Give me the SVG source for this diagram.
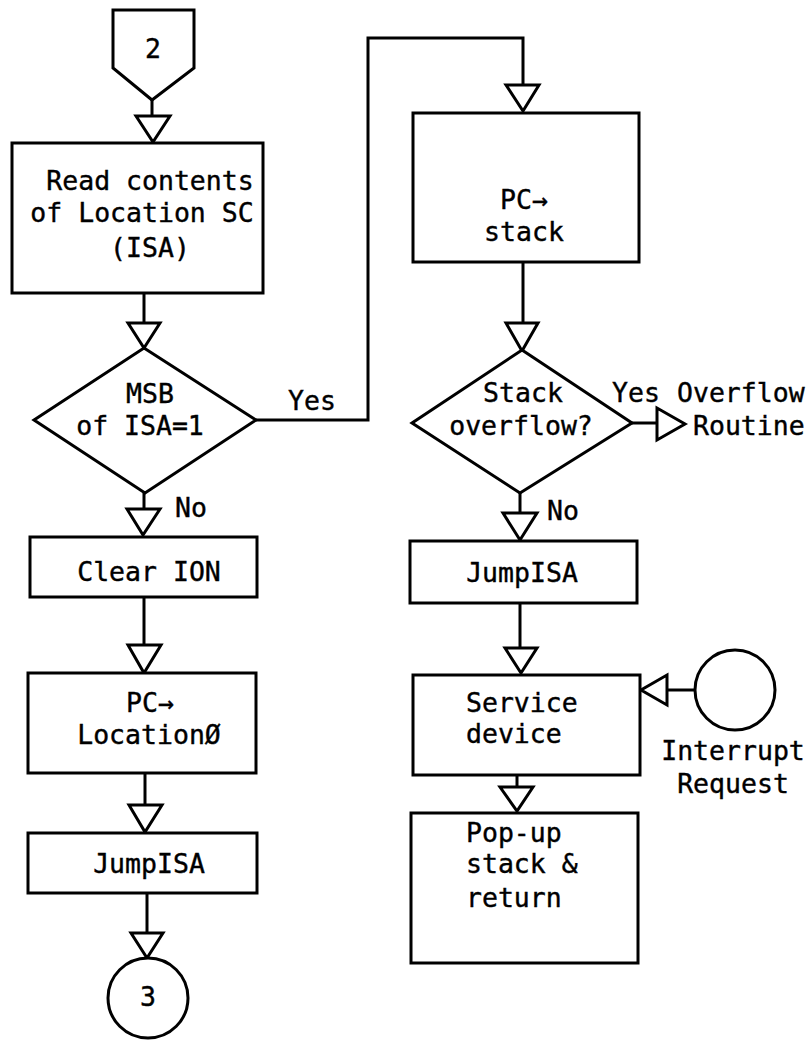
<svg xmlns="http://www.w3.org/2000/svg" width="812" height="1040" viewBox="0 0 812 1040">
  <style>
    .shape { fill: #fff; stroke: #000; stroke-width: 3; stroke-linejoin: miter; }
    .line { fill: none; stroke: #000; stroke-width: 3; }
    .head { fill: #fff; stroke: #000; stroke-width: 3; stroke-linejoin: miter; }
    text { font-family: "DejaVu Sans Mono", "Liberation Mono", monospace; font-size: 26.5px; fill: #000; stroke: #000; stroke-width: 0.4; }
  </style>
  <rect width="812" height="1040" fill="#fff"/>

  <!-- connectors -->
  <g id="connectors">
    <line class="line" x1="152" y1="100" x2="152" y2="116"/>
    <polygon class="head" points="136,116 170,116 153,142"/>
    <line class="line" x1="144" y1="293" x2="144" y2="323"/>
    <polygon class="head" points="128,323 160,323 144,348"/>
    <polyline class="line" points="256,420 368,420 368,38 523,38 523,85"/>
    <polygon class="head" points="506,85 539,85 523,111"/>
    <text x="288" y="410">Yes</text>
    <line class="line" x1="144" y1="493" x2="144" y2="509"/>
    <polygon class="head" points="127,509 160,509 143,535"/>
    <text x="175" y="517">No</text>
    <line class="line" x1="144" y1="597" x2="144" y2="645"/>
    <polygon class="head" points="128,645 161,645 144,673"/>
    <line class="line" x1="145" y1="773" x2="145" y2="805"/>
    <polygon class="head" points="129,805 162,805 145,832"/>
    <line class="line" x1="147" y1="893" x2="147" y2="933"/>
    <polygon class="head" points="131,933 163,933 147,958"/>

    <line class="line" x1="523" y1="262" x2="523" y2="323"/>
    <polygon class="head" points="506,323 538,323 522,351"/>
    <line class="line" x1="632" y1="423" x2="657" y2="423"/>
    <polygon class="head" points="657,408 657,440 685,424"/>
    <text x="612" y="402">Yes</text>
    <line class="line" x1="520" y1="493" x2="520" y2="513"/>
    <polygon class="head" points="503,513 537,513 520,540"/>
    <text x="547" y="520">No</text>
    <line class="line" x1="520" y1="603" x2="520" y2="648"/>
    <polygon class="head" points="505,648 537,648 521,673"/>
    <line class="line" x1="695" y1="690" x2="667" y2="690"/>
    <polygon class="head" points="667,675 667,705 641,690"/>
    <line class="line" x1="517" y1="775" x2="517" y2="787"/>
    <polygon class="head" points="500,787 533,787 517,811"/>
  </g>

  <!-- left column -->
  <g id="connector-2">
    <polygon class="shape" points="113,10 194,10 194,68 152,100 113,68"/>
    <text x="153" y="58" text-anchor="middle">2</text>
  </g>
  <g id="read-isa">
    <rect class="shape" x="12" y="143" width="251" height="150"/>
    <text x="150" y="190" text-anchor="middle">Read contents</text>
    <text x="142" y="222" text-anchor="middle">of Location SC</text>
    <text x="150" y="257" text-anchor="middle">(ISA)</text>
  </g>
  <g id="msb-decision">
    <polygon class="shape" points="144,348 256,420 145,493 34,420"/>
    <text x="150" y="403" text-anchor="middle">MSB</text>
    <text x="140" y="435" text-anchor="middle">of ISA=1</text>
  </g>
  <g id="clear-ion">
    <rect class="shape" x="30" y="537" width="227" height="60"/>
    <text x="149" y="581" text-anchor="middle">Clear ION</text>
  </g>
  <g id="pc-location0">
    <rect class="shape" x="28" y="673" width="228" height="100"/>
    <text x="150" y="712" text-anchor="middle">PC→</text>
    <text x="149" y="744" text-anchor="middle">LocationØ</text>
  </g>
  <g id="jump-isa-left">
    <rect class="shape" x="28" y="833" width="229" height="60"/>
    <text x="149" y="873" text-anchor="middle">JumpISA</text>
  </g>
  <g id="connector-3">
    <circle class="shape" cx="148" cy="998" r="40"/>
    <text x="148" y="1006" text-anchor="middle">3</text>
  </g>

  <!-- right column -->
  <g id="pc-stack">
    <rect class="shape" x="413" y="113" width="226" height="149"/>
    <text x="524" y="209" text-anchor="middle">PC→</text>
    <text x="524" y="241" text-anchor="middle">stack</text>
  </g>
  <g id="overflow-decision">
    <polygon class="shape" points="522,350 632,423 520,493 412,423"/>
    <text x="523" y="402" text-anchor="middle">Stack</text>
    <text x="521" y="435" text-anchor="middle">overflow?</text>
  </g>
  <g id="overflow-routine">
    <text x="677" y="402">Overflow</text>
    <text x="693" y="435">Routine</text>
  </g>
  <g id="jump-isa-right">
    <rect class="shape" x="410" y="541" width="227" height="62"/>
    <text x="522" y="582" text-anchor="middle">JumpISA</text>
  </g>
  <g id="service-device">
    <rect class="shape" x="413" y="675" width="227" height="100"/>
    <text x="466" y="712">Service</text>
    <text x="466" y="743">device</text>
  </g>
  <g id="interrupt-request">
    <circle class="shape" cx="735" cy="690" r="40"/>
    <text x="733" y="760" text-anchor="middle">Interrupt</text>
    <text x="733" y="793" text-anchor="middle">Request</text>
  </g>
  <g id="pop-up-return">
    <rect class="shape" x="411" y="813" width="227" height="150"/>
    <text x="466" y="842">Pop-up</text>
    <text x="466" y="873">stack &amp;</text>
    <text x="466" y="907">return</text>
  </g>
</svg>
